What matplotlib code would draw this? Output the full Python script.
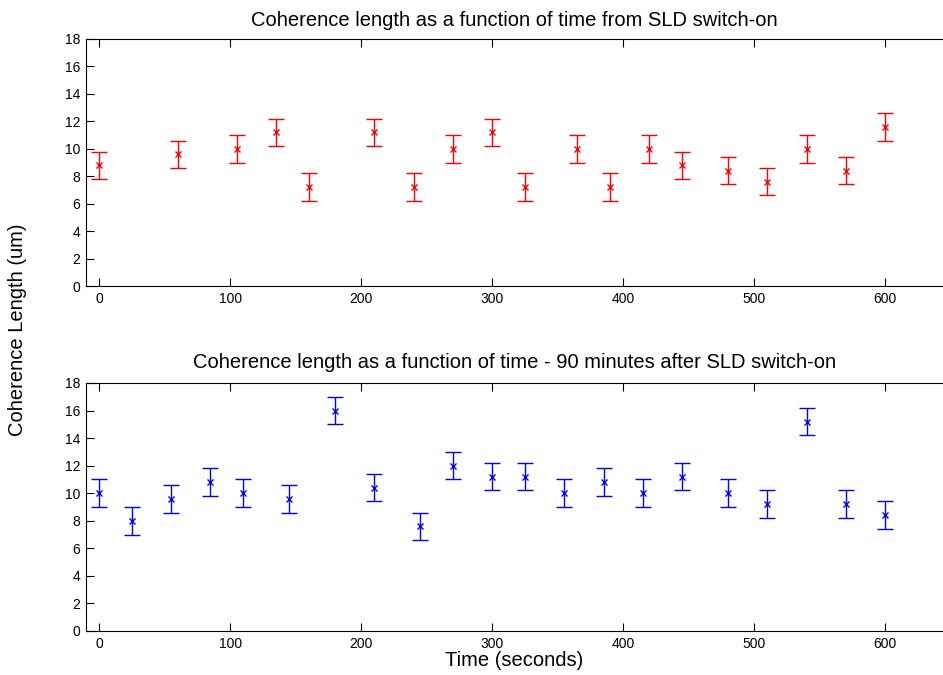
import matplotlib
matplotlib.use("Agg")
import matplotlib.pyplot as plt

# first run: from SLD switch-on
t_start = [0, 60, 105, 135, 160, 210, 240, 270, 300, 325, 365, 390, 420, 445, 480, 510, 540, 570, 600]
len_start = [8.8, 9.6, 10.0, 11.2, 7.2, 11.2, 7.2, 10.0, 11.2, 7.2, 10.0, 7.2, 10.0, 8.8, 8.4, 7.6, 10.0, 8.4, 11.6]
err_start = [1.0] * len(t_start)

# second run: 90 minutes later
t_late = [0, 25, 55, 85, 110, 145, 180, 210, 245, 270, 300, 325, 355, 385, 415, 445, 480, 510, 540, 570, 600]
len_late = [10.0, 8.0, 9.6, 10.8, 10.0, 9.6, 16.0, 10.4, 7.6, 12.0, 11.2, 11.2, 10.0, 10.8, 10.0, 11.2, 10.0, 9.2, 15.2, 9.2, 8.4]
err_late = [1.0] * len(t_late)

titles = ['Coherence length as a function of time from SLD switch-on',
          'Coherence length as a function of time - 90 minutes after SLD switch-on']

plt.rcParams['font.family'] = 'Liberation Sans'
fig = plt.figure(figsize=(9.43, 6.75), dpi=100)
W, H = 943.0, 675.0
ax1 = fig.add_axes([86 / W, 1 - 286 / H, (943 - 86) / W, (286 - 39) / H])
ax2 = fig.add_axes([86 / W, 1 - 631 / H, (943 - 86) / W, (631 - 383) / H])

for ax, t, y, e, col, title, tpad in [(ax1, t_start, len_start, err_start, '#ff0000', titles[0], 9),
                                      (ax2, t_late, len_late, err_late, '#0000ff', titles[1], 11)]:
    ax.errorbar(t, y, yerr=e, fmt='x', color=col, ecolor=col, markersize=4,
                elinewidth=1, capsize=6, capthick=1, markeredgewidth=1)
    ax.set_xlim(-10, 644)
    ax.set_ylim(0, 18)
    ax.set_yticks(range(0, 19, 2))
    ax.set_xticks(range(0, 601, 100))
    ax.tick_params(direction='in', top=True, length=5.5, labelsize=10, pad=4)
    ax.spines['right'].set_visible(False)
    ax.set_title(title, fontsize=14.5, pad=tpad)

ax2.set_xlabel('Time (seconds)', fontsize=14.5, labelpad=0)
fig.text(18 / W, 1 - 330 / H, 'Coherence Length (um)', rotation=90, fontsize=14.5,
         ha='center', va='center')

fig.savefig('out.png', dpi=100)
